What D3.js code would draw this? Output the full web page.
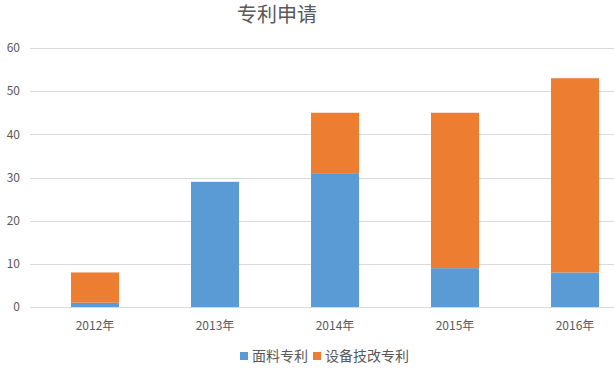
<!DOCTYPE html>
<html>
<head>
<meta charset="utf-8">
<script src="https://cdn.jsdelivr.net/npm/d3@7"></script>
<style>
  body { margin: 0; background: #fff; }
  text { font-family: "Microsoft YaHei", "Noto Sans CJK SC", sans-serif; }
</style>
</head>
<body>
<div id="chart"></div>
<script>
// 数据
const years = ["2012年", "2013年", "2014年", "2015年", "2016年"];
const fabric = [1, 29, 31, 9, 8];        // 面料专利
const equipment = [7, 0, 14, 36, 45];    // 设备技改专利
const seriesNames = ["面料专利", "设备技改专利"];
const colors = ["#5b9bd5", "#ed7d31"];
const yTicks = [0, 10, 20, 30, 40, 50, 60];

const width = 614, height = 370;

const svg = d3.select("#chart").append("svg")
  .attr("width", width)
  .attr("height", height);

// 제목
svg.append("text")
  .attr("x", 277)
  .attr("y", 22)
  .attr("text-anchor", "middle")
  .style("font-size", "20px")
  .style("fill", "#595959")
  .text("专利申请");

const x = d3.scaleBand()
  .domain(years)
  .range([35, 635])
  .paddingInner(0.6)
  .paddingOuter(0.3);

const y = d3.scaleLinear()
  .domain([0, 60])
  .range([307, 48]);

// 格线
svg.append("g")
  .selectAll("line")
  .data(yTicks)
  .enter().append("line")
  .attr("x1", 30)
  .attr("x2", width)
  .attr("y1", d => Math.round(y(d)) + 0.5)
  .attr("y2", d => Math.round(y(d)) + 0.5)
  .attr("stroke", "#d9d9d9")
  .attr("stroke-width", 1);

// y 轴标签
svg.append("g")
  .selectAll("text")
  .data(yTicks)
  .enter().append("text")
  .attr("x", 20)
  .attr("y", d => y(d))
  .attr("dy", "0.35em")
  .attr("text-anchor", "end")
  .style("font-size", "12px")
  .style("fill", "#595959")
  .text(d => d);

// 堆叠数据
const table = years.map((yr, i) => ({ year: yr, a: fabric[i], b: equipment[i] }));
const stack = d3.stack().keys(["a", "b"])(table);

svg.append("g")
  .selectAll("g")
  .data(stack)
  .enter().append("g")
  .attr("fill", (d, i) => colors[i])
  .selectAll("rect")
  .data(d => d)
  .enter().append("rect")
  .attr("x", d => x(d.data.year))
  .attr("width", x.bandwidth())
  .attr("y", d => y(d[1]))
  .attr("height", d => y(d[0]) - y(d[1]));

// x 轴标签
svg.append("g")
  .selectAll("text")
  .data(years)
  .enter().append("text")
  .attr("x", d => x(d) + x.bandwidth() / 2)
  .attr("y", 330)
  .attr("text-anchor", "middle")
  .style("font-size", "12px")
  .style("fill", "#595959")
  .text(d => d);

// 图例
const legendX = [240, 313];
const legend = svg.append("g");
seriesNames.forEach((name, i) => {
  legend.append("rect")
    .attr("x", legendX[i])
    .attr("y", 352)
    .attr("width", 8)
    .attr("height", 8)
    .attr("fill", colors[i]);
  legend.append("text")
    .attr("x", legendX[i] + 12)
    .attr("y", 361)
    .style("font-size", "14px")
    .style("fill", "#595959")
    .text(name);
});
</script>
</body>
</html>
